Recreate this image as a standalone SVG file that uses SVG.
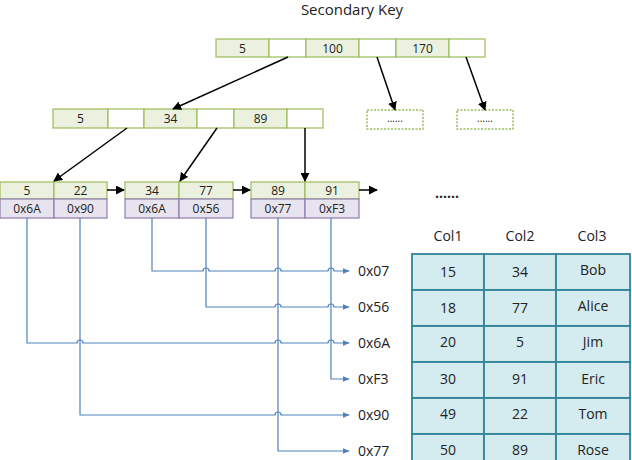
<svg xmlns="http://www.w3.org/2000/svg" width="632" height="460" viewBox="0 0 632 460">
<defs>
<marker id="ah" viewBox="0 0 10 10" refX="9" refY="5" markerWidth="9" markerHeight="9" markerUnits="userSpaceOnUse" orient="auto"><path d="M0,0 L10,5 L0,10 z" fill="#000"/></marker>
<marker id="bh" viewBox="0 0 10 10" refX="9" refY="5" markerWidth="7" markerHeight="7" markerUnits="userSpaceOnUse" orient="auto"><path d="M0,1 L10,5 L0,9 z" fill="#4F81BD"/></marker>
<style>
text{font-family:"Open Sans","Noto Sans","DejaVu Sans",sans-serif;fill:#222;text-anchor:middle}
.k{fill:#EBF1DE;stroke:#9BBB59;stroke-width:1.2}
.e{fill:#fff;stroke:#9BBB59;stroke-width:1.2}
.p{fill:#E8E4EF;stroke:#8C7CAE;stroke-width:1.2}
.d{fill:#fff;stroke:#9BBB59;stroke-width:1.5;stroke-dasharray:2,1.5}
.t{fill:#D4EBF0;stroke:#31849B;stroke-width:1.8}
.s{font-size:12px}
.m{font-size:14px}
.bl{fill:none;stroke:#000;stroke-width:1.5}
.bu{fill:none;stroke:#4F81BD;stroke-width:1.2}
.lbl{font-size:14px;text-anchor:start}
</style>
</defs>
<rect width="632" height="460" fill="#fff"/>
<text x="352" y="15" font-size="15">Secondary Key</text>

<g id="root">
<rect class="k" x="216" y="39" width="53" height="18"/><text class="s" x="242.5" y="52.5">5</text>
<rect class="e" x="269" y="39" width="37" height="18"/>
<rect class="k" x="306" y="39" width="53" height="18"/><text class="s" x="332.5" y="52.5">100</text>
<rect class="e" x="359" y="39" width="37" height="18"/>
<rect class="k" x="396" y="39" width="53" height="18"/><text class="s" x="422.5" y="52.5">170</text>
<rect class="e" x="449" y="39" width="36" height="18"/>
</g>

<g id="inner">
<rect class="k" x="53" y="109" width="55" height="19"/><text class="s" x="80.5" y="123">5</text>
<rect class="e" x="108" y="109" width="36" height="19"/>
<rect class="k" x="144" y="109" width="53" height="19"/><text class="s" x="170.5" y="123">34</text>
<rect class="e" x="197" y="109" width="37" height="19"/>
<rect class="k" x="234" y="109" width="53" height="19"/><text class="s" x="260.5" y="123">89</text>
<rect class="e" x="287" y="109" width="36" height="19"/>
</g>

<g id="more1"><rect class="d" x="367" y="110" width="56" height="19"/><text font-size="10" x="395" y="122">......</text></g>
<g id="more2"><rect class="d" x="457" y="110" width="56" height="19"/><text font-size="10" x="485" y="122">......</text></g>

<g id="leaf1">
<rect class="k" x="0" y="182" width="54" height="17"/><text class="s" x="27" y="195">5</text>
<rect class="k" x="54" y="182" width="53" height="17"/><text class="s" x="80.5" y="195">22</text>
<rect class="p" x="0" y="199" width="54" height="19"/><text class="s" x="27" y="213">0x6A</text>
<rect class="p" x="54" y="199" width="53" height="19"/><text class="s" x="80.5" y="213">0x90</text>
</g>
<g id="leaf2">
<rect class="k" x="125" y="182" width="54" height="17"/><text class="s" x="152" y="195">34</text>
<rect class="k" x="179" y="182" width="54" height="17"/><text class="s" x="206" y="195">77</text>
<rect class="p" x="125" y="199" width="54" height="19"/><text class="s" x="152" y="213">0x6A</text>
<rect class="p" x="179" y="199" width="54" height="19"/><text class="s" x="206" y="213">0x56</text>
</g>
<g id="leaf3">
<rect class="k" x="251" y="182" width="54" height="17"/><text class="s" x="278" y="195">89</text>
<rect class="k" x="305" y="182" width="54" height="17"/><text class="s" x="332" y="195">91</text>
<rect class="p" x="251" y="199" width="54" height="19"/><text class="s" x="278" y="213">0x77</text>
<rect class="p" x="305" y="199" width="54" height="19"/><text class="s" x="332" y="213">0xF3</text>
</g>

<text x="447" y="198" font-size="14" font-weight="bold">......</text>

<g id="connectors">
<line class="bl" x1="288" y1="57" x2="173" y2="109" marker-end="url(#ah)"/>
<line class="bl" x1="377" y1="57" x2="395" y2="110" marker-end="url(#ah)"/>
<line class="bl" x1="466" y1="57" x2="485" y2="110" marker-end="url(#ah)"/>
<line class="bl" x1="127" y1="128" x2="54" y2="181" marker-end="url(#ah)"/>
<line class="bl" x1="217" y1="128" x2="180" y2="181" marker-end="url(#ah)"/>
<line class="bl" x1="305" y1="128" x2="305" y2="181" marker-end="url(#ah)"/>
<line class="bl" x1="107" y1="190" x2="124" y2="190" marker-end="url(#ah)"/>
<line class="bl" x1="233" y1="190" x2="250" y2="190" marker-end="url(#ah)"/>
<line class="bl" x1="359" y1="190" x2="377" y2="190" marker-end="url(#ah)"/>

<path class="bu" d="M152,218 V271 H203 a3,3 0 0 1 6,0 H275 a3,3 0 0 1 6,0 H328 a3,3 0 0 1 6,0 H349" marker-end="url(#bh)"/>
<path class="bu" d="M206,218 V307 H275 a3,3 0 0 1 6,0 H328 a3,3 0 0 1 6,0 H349" marker-end="url(#bh)"/>
<path class="bu" d="M27,218 V343 H77 a3,3 0 0 1 6,0 H275 a3,3 0 0 1 6,0 H328 a3,3 0 0 1 6,0 H349" marker-end="url(#bh)"/>
<path class="bu" d="M331,218 V379 H349" marker-end="url(#bh)"/>
<path class="bu" d="M80,218 V415 H275 a3,3 0 0 1 6,0 H349" marker-end="url(#bh)"/>
<path class="bu" d="M278,218 V451 H349" marker-end="url(#bh)"/>
</g>

<g id="labels">
<text class="lbl" x="358" y="276">0x07</text>
<text class="lbl" x="358" y="312">0x56</text>
<text class="lbl" x="358" y="348">0x6A</text>
<text class="lbl" x="358" y="384">0xF3</text>
<text class="lbl" x="358" y="420">0x90</text>
<text class="lbl" x="358" y="456">0x77</text>
</g>

<g id="table">
<text class="m" x="448" y="241">Col1</text>
<text class="m" x="520" y="241">Col2</text>
<text class="m" x="592" y="241">Col3</text>
<g>
<rect class="t" x="412" y="254" width="72" height="36"/><rect class="t" x="484" y="254" width="72" height="36"/><rect class="t" x="556" y="254" width="74" height="36"/>
<text class="m" x="448" y="277">15</text><text class="m" x="520" y="277">34</text><text class="m" x="593" y="275">Bob</text>
</g>
<g>
<rect class="t" x="412" y="290" width="72" height="36"/><rect class="t" x="484" y="290" width="72" height="36"/><rect class="t" x="556" y="290" width="74" height="36"/>
<text class="m" x="448" y="313">18</text><text class="m" x="520" y="313">77</text><text class="m" x="593" y="311">Alice</text>
</g>
<g>
<rect class="t" x="412" y="326" width="72" height="36"/><rect class="t" x="484" y="326" width="72" height="36"/><rect class="t" x="556" y="326" width="74" height="36"/>
<text class="m" x="448" y="347">20</text><text class="m" x="520" y="347">5</text><text class="m" x="593" y="347">Jim</text>
</g>
<g>
<rect class="t" x="412" y="362" width="72" height="36"/><rect class="t" x="484" y="362" width="72" height="36"/><rect class="t" x="556" y="362" width="74" height="36"/>
<text class="m" x="448" y="384">30</text><text class="m" x="520" y="384">91</text><text class="m" x="593" y="384">Eric</text>
</g>
<g>
<rect class="t" x="412" y="398" width="72" height="36"/><rect class="t" x="484" y="398" width="72" height="36"/><rect class="t" x="556" y="398" width="74" height="36"/>
<text class="m" x="448" y="419">49</text><text class="m" x="520" y="419">22</text><text class="m" x="593" y="419">Tom</text>
</g>
<g>
<rect class="t" x="412" y="434" width="72" height="36"/><rect class="t" x="484" y="434" width="72" height="36"/><rect class="t" x="556" y="434" width="74" height="36"/>
<text class="m" x="448" y="455">50</text><text class="m" x="520" y="455">89</text><text class="m" x="593" y="455">Rose</text>
</g>
</g>
</svg>
